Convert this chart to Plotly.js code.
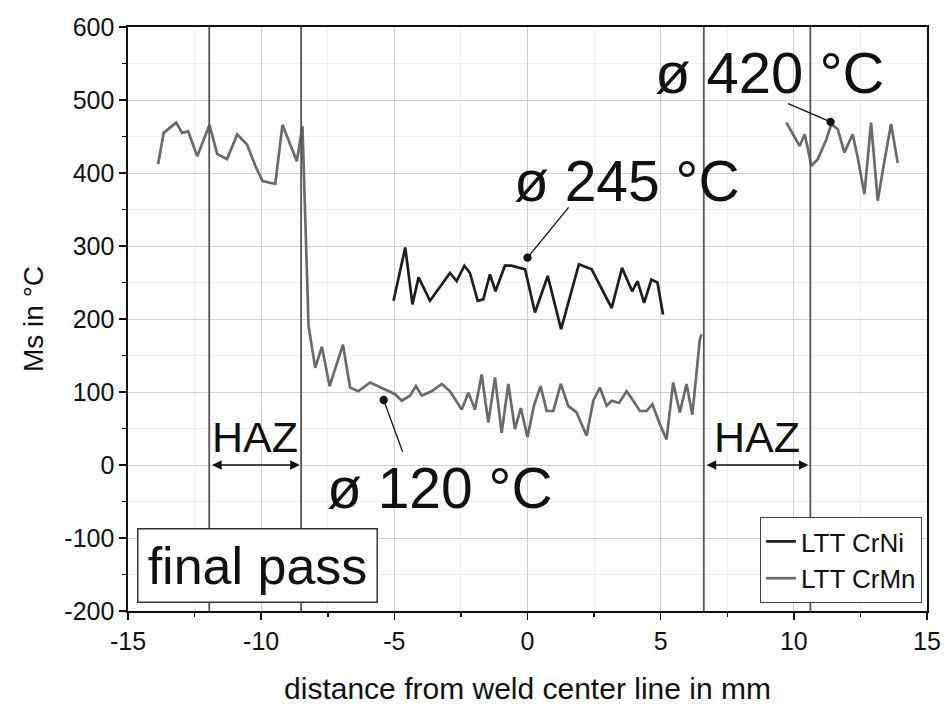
<!DOCTYPE html>
<html>
<head>
<meta charset="utf-8">
<script src="https://cdn.plot.ly/plotly-3.0.1.min.js"></script>
<style>html,body{margin:0;padding:0;background:#fff}#chart{width:952px;height:711px}</style>
</head>
<body>
<div id="chart"></div>
<script>
// ---- data ----
const crniX = [-5.03,-4.59,-4.32,-4.09,-3.66,-3.22,-2.91,-2.66,-2.37,-2.16,-1.87,-1.66,-1.41,-1.2,-0.85,-0.6,-0.09,0.28,0.76,1.26,1.59,1.93,2.41,2.78,3.16,3.55,3.93,4.13,4.38,4.65,4.88,5.09];
const crniY = [225,298,220,257,225,248,263,252,273,263,225,227,261,238,273,273,268,209,259,186,229,275,268,241,215,270,238,252,222,254,250,206];

const crmnLeftX = [-13.87,-13.66,-13.19,-12.97,-12.74,-12.4,-11.94,-11.65,-11.28,-10.9,-10.53,-10.22,-9.95,-9.47,-9.2,-8.66,-8.45,-8.22,-7.97,-7.72,-7.43,-6.93,-6.66,-6.35,-5.91,-5.47,-4.97,-4.72,-4.41,-4.19,-3.97,-3.6,-3.22,-2.91,-2.47,-2.22,-1.97,-1.72,-1.47,-1.22,-0.97,-0.72,-0.47,-0.25,0.0,0.24,0.49,0.72,0.97,1.25,1.53,1.84,2.22,2.47,2.72,2.97,3.16,3.44,3.72,3.97,4.22,4.47,4.69,4.97,5.22,5.47,5.72,5.97,6.19,6.47,6.53];
const crmnLeftY = [412,455,469,455,457,423,466,426,419,453,439,410,389,385,466,416,464,190,133,162,108,165,106,101,113,106,97,88,95,108,95,101,111,101,76,99,76,124,58,120,44,111,49,78,38,81,108,74,74,111,81,72,40,88,106,81,88,85,101,88,74,74,83,56,35,113,72,111,69,172,179];
const crmnRightX = [9.72,10.05,10.22,10.41,10.66,10.9,11.22,11.41,11.65,11.9,12.21,12.4,12.65,12.9,13.15,13.4,13.65,13.9];
const crmnRightY = [469,449,437,453,410,419,446,467,460,428,453,421,371,469,362,416,467,414];

const hazBounds = [-11.95, -8.5, 6.62, 10.62];
const seriesNames = ["LTT CrNi", "LTT CrMn"];
const avgLabels = ["ø 245 °C", "ø 120 °C", "ø 420 °C"];
const xTickVals = [-15, -10, -5, 0, 5, 10, 15];
const xTickText = ["-15", "-10", "-5", "0", "5", "10", "15"];
const yTickVals = [-200, -100, 0, 100, 200, 300, 400, 500, 600];
const yTickText = ["-200", "-100", "0", "100", "200", "300", "400", "500", "600"];

// ---- traces ----
const crmnX = crmnLeftX.concat([null], crmnRightX);
const crmnY = crmnLeftY.concat([null], crmnRightY);

const traces = [
  {x: crniX, y: crniY, type: 'scatter', mode: 'lines', name: seriesNames[0],
   line: {color: '#1e1e1e', width: 2.7}},
  {x: crmnX, y: crmnY, type: 'scatter', mode: 'lines', name: seriesNames[1],
   connectgaps: false, line: {color: '#6a6a6a', width: 2.7}}
];

const FONT = 'Liberation Sans, Arial, sans-serif';

const shapes = hazBounds.map(v => ({
  type: 'line', xref: 'x', yref: 'paper', x0: v, x1: v, y0: 0, y1: 1,
  line: {color: '#555', width: 1.8}, layer: 'above'
}));

function callout(hx, hy, tx, ty) {
  return {x: hx, y: hy, ax: tx, ay: ty, axref: 'x', ayref: 'y', xref: 'x', yref: 'y',
    text: '', showarrow: true, arrowhead: 6, arrowsize: 1.6, arrowwidth: 1.3,
    arrowcolor: '#111', standoff: 0, startstandoff: 0};
}
function dbl(x0, x1) {
  return {x: x1, y: 0, ax: x0, ay: 0, axref: 'x', ayref: 'y', xref: 'x', yref: 'y',
    text: '', showarrow: true, arrowhead: 2, startarrowhead: 2, arrowside: 'end+start',
    arrowsize: 1.2, arrowwidth: 1.6, arrowcolor: '#111', standoff: 0, startstandoff: 0};
}
function label(x, y, t, size) {
  return {x: x, y: y, xref: 'x', yref: 'y', text: t, showarrow: false,
    font: {family: FONT, size: size, color: '#111'}};
}

const annotations = [
  callout(0.0, 284, 1.59, 355),
  callout(-5.4, 89, -4.67, 16),
  callout(11.38, 470, 9.73, 496),
  label(3.74, 389, avgLabels[0], 57),
  label(-3.28, -32, avgLabels[1], 57),
  label(9.09, 537, avgLabels[2], 58),
  dbl(-11.9, -8.55),
  dbl(6.67, 10.55),
  label(-10.22, 38, 'HAZ', 43),
  label(8.6, 38, 'HAZ', 43),
  {x: -10.15, y: -138, xref: 'x', yref: 'y', text: 'final pass', showarrow: false,
   font: {family: FONT, size: 52, color: '#111'}, bgcolor: '#fff',
   bordercolor: '#333', borderwidth: 1.5, width: 232, height: 66, borderpad: 3}
];

const layout = {
  width: 952, height: 711,
  margin: {l: 128, r: 25, t: 27, b: 100},
  paper_bgcolor: '#fff', plot_bgcolor: '#fff',
  font: {family: FONT, color: '#111'},
  showlegend: true,
  legend: {x: 0.9937, xanchor: 'right', y: 0.0137, yanchor: 'bottom',
    bgcolor: '#fff', bordercolor: '#444', borderwidth: 1,
    font: {family: FONT, size: 26, color: '#111'}, tracegroupgap: 0},
  xaxis: {range: [-15, 15], tickvals: xTickVals, ticktext: xTickText,
    ticks: 'outside', ticklen: 7, tickwidth: 1.5, tickcolor: '#111',
    minor: {dtick: 2.5, ticks: 'outside', ticklen: 4, tickcolor: '#111', showgrid: true, gridcolor: '#f0f0f0'},
    showgrid: true, gridcolor: '#cfcfcf', gridwidth: 1,
    showline: true, linecolor: '#111', linewidth: 1.6, mirror: true, zeroline: false,
    tickfont: {family: FONT, size: 25, color: '#111'},
    title: {text: 'distance from weld center line in mm', font: {family: FONT, size: 30, color: '#111'}, standoff: 24}},
  yaxis: {range: [-200, 600], tickvals: yTickVals, ticktext: yTickText,
    ticks: 'outside', ticklen: 7, tickwidth: 1.5, tickcolor: '#111',
    minor: {dtick: 50, ticks: 'outside', ticklen: 4, tickcolor: '#111', showgrid: true, gridcolor: '#f0f0f0'},
    showgrid: true, gridcolor: '#cfcfcf', gridwidth: 1,
    showline: true, linecolor: '#111', linewidth: 1.6, mirror: true, zeroline: false,
    tickfont: {family: FONT, size: 25, color: '#111'},
    title: {text: 'Ms in °C', font: {family: FONT, size: 28, color: '#111'}, standoff: 12}},
  shapes: shapes,
  annotations: annotations
};

Plotly.newPlot('chart', traces, layout, {displayModeBar: false, staticPlot: true});
</script>
</body>
</html>
